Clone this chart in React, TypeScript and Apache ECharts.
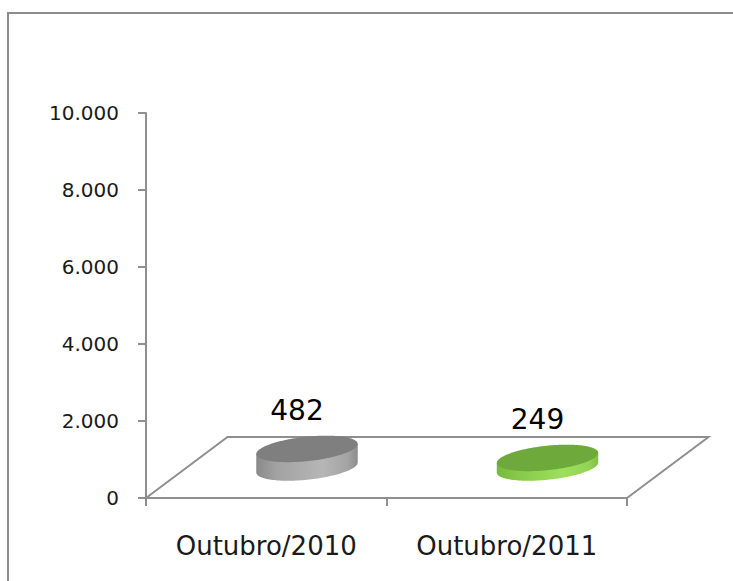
import React, { useEffect, useRef } from "react";
import * as echarts from "echarts";

const categories = ["Outubro/2010", "Outubro/2011"];
const values = [482, 249];
const yMin = 0;
const yMax = 10000;
const yStep = 2000;

const topColors = ["#7f7f7f", "#6eaa3b"];
const sideStops = [
  ["#8a8a8a", "#a2a2a2", "#b6b6b6", "#a4a4a4", "#8c8c8c"],
  ["#79b842", "#86c84b", "#9edf5b", "#94d455", "#82bf49"],
];

const DX = 81.5;
const DY = -61;
const FONT = "'DejaVu Sans', 'Open Sans', sans-serif";

function fmt(v: number): string {
  return String(v).replace(/\B(?=(\d{3})+(?!\d))/g, ".");
}

function ePt(cx: number, cy: number, a: number, b: number, th: number, t: number) {
  return [
    cx + a * Math.cos(t) * Math.cos(th) - b * Math.sin(t) * Math.sin(th),
    cy + a * Math.cos(t) * Math.sin(th) + b * Math.sin(t) * Math.cos(th),
  ];
}

export default function App() {
  const ref = useRef<HTMLDivElement>(null);
  useEffect(() => {
    if (!ref.current) return;
    const chart = echarts.init(ref.current, undefined, { renderer: "svg" });
    const n = categories.length;
    const option: any = {
      animation: false,
      backgroundColor: "#ffffff",
      grid: { left: 146, right: 106, top: 113, bottom: 83, outerBoundsMode: "none", containLabel: false },
      graphic: [
        {
          type: "rect",
          shape: { x: 8, y: 13, width: 800, height: 700 },
          style: { fill: "none", stroke: "#8c8c8c", lineWidth: 2 },
          z: -10,
        },
      ],
      xAxis: {
        type: "category",
        data: categories,
        boundaryGap: true,
        axisLine: { lineStyle: { color: "#8f8f8f", width: 2 } },
        axisTick: { show: true, length: 8, inside: false, lineStyle: { color: "#8f8f8f", width: 2 } },
        axisLabel: { fontFamily: FONT, fontSize: 26, color: "#1a1a1a", margin: 35 },
        splitLine: { show: false },
      },
      yAxis: {
        type: "value",
        min: yMin,
        max: yMax,
        interval: yStep,
        axisLine: { show: true, lineStyle: { color: "#8f8f8f", width: 2 } },
        axisTick: { show: true, length: 8, inside: false, lineStyle: { color: "#8f8f8f", width: 2 } },
        axisLabel: { fontFamily: FONT, fontSize: 20, color: "#1a1a1a", margin: 27, formatter: (v: number) => fmt(v) },
        splitLine: { show: false },
      },
      series: [
        {
          type: "custom",
          name: "floor",
          z: 1,
          data: [[0, 0]],
          encode: { x: 0, y: 1 },
          renderItem: (params: any, api: any) => {
            const first = api.coord([0, 0]);
            const last = api.coord([n - 1, 0]);
            const band = api.size([1, 0])[0];
            const l = first[0] - band / 2;
            const r = last[0] + band / 2;
            const y = first[1];
            return {
              type: "polyline",
              shape: { points: [[l, y], [l + DX, y + DY], [r + DX, y + DY], [r, y]] },
              style: { fill: "none", stroke: "#8f8f8f", lineWidth: 2 },
            };
          },
        },
        {
          type: "custom",
          name: "values",
          z: 3,
          data: values.map((v, i) => [i, v]),
          encode: { x: 0, y: 1 },
          renderItem: (params: any, api: any) => {
            const i = api.value(0);
            const v = api.value(1);
            const base = api.coord([i, 0]);
            const top = api.coord([i, v]);
            const band = api.size([1, 0])[0];
            const cx = base[0] + DX / 2;
            const yb = base[1] + DY / 2;
            const yt = top[1] + DY / 2;
            const h = yb - yt;
            const a = band * 0.212;
            const b = 12.2;
            const th = (-6 * Math.PI) / 180;
            const t0 = Math.atan2(-b * Math.sin(th), a * Math.cos(th));
            const N = 72;
            const sidePts: number[][] = [];
            const R = ePt(cx, yt, a, b, th, t0);
            sidePts.push(R);
            for (let k = 0; k <= N; k++) {
              const t = t0 + (Math.PI * k) / N;
              const p = ePt(cx, yb, a, b, th, t);
              sidePts.push(p);
            }
            const L = ePt(cx, yt, a, b, th, t0 + Math.PI);
            sidePts.push(L);
            const topPts: number[][] = [];
            for (let k = 0; k < 2 * N; k++) {
              topPts.push(ePt(cx, yt, a, b, th, (Math.PI * k) / N));
            }
            const stops = sideStops[i];
            const grad = new echarts.graphic.LinearGradient(0, 0, 1, 0, [
              { offset: 0, color: stops[0] },
              { offset: 0.2, color: stops[1] },
              { offset: 0.65, color: stops[2] },
              { offset: 0.9, color: stops[3] },
              { offset: 1, color: stops[4] },
            ]);
            return {
              type: "group",
              children: [
                { type: "polygon", shape: { points: sidePts }, style: { fill: grad, stroke: "none" } },
                { type: "polygon", shape: { points: topPts }, style: { fill: topColors[i], stroke: "none" } },
                {
                  type: "text",
                  x: cx - 10,
                  y: yt - 24,
                  style: {
                    text: fmt(v),
                    fontFamily: FONT,
                    fontSize: 28,
                    fill: "#000000",
                    align: "center",
                    verticalAlign: "bottom",
                  },
                },
              ],
            };
          },
        },
      ],
    };
    chart.setOption(option);
    return () => chart.dispose();
  }, []);
  return (
    <div
      ref={ref}
      style={{ position: "fixed", left: 0, top: 0, width: 733, height: 581, background: "#fff" }}
    />
  );
}
